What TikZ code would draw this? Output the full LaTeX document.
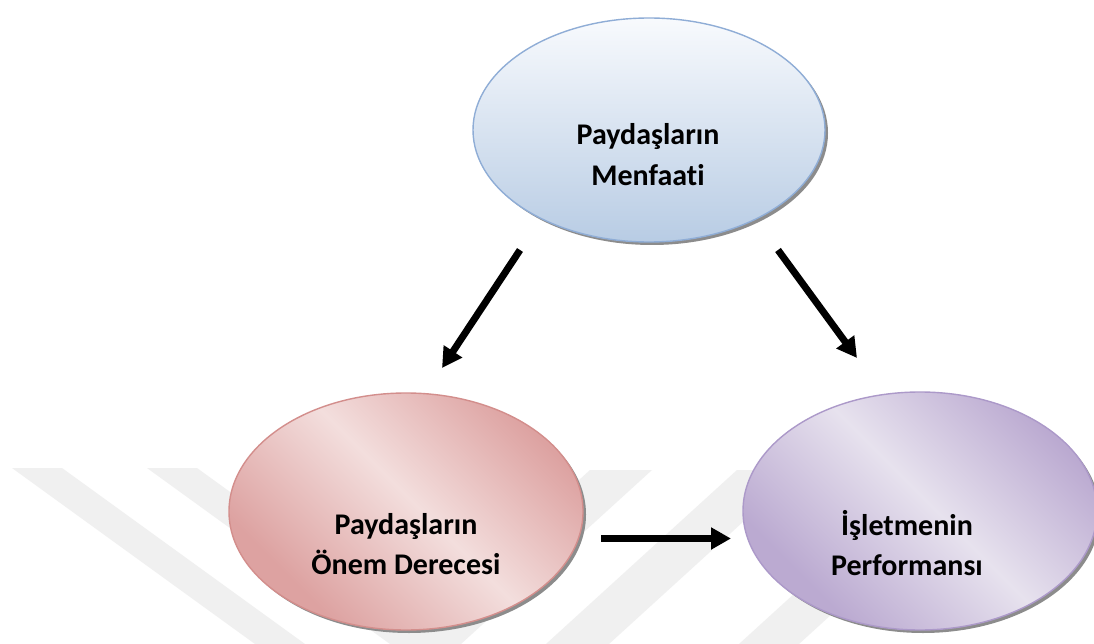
\documentclass[tikz,border=0pt]{standalone}
\usepackage{fontspec}
\setmainfont{Carlito}[Ligatures=NoCommon]
\usetikzlibrary{shapes.geometric,arrows.meta}

% palette
\definecolor{blueTop}{HTML}{F8FAFD}
\definecolor{blueMid}{HTML}{E0E9F4}
\definecolor{blueBot}{HTML}{B8CCE4}
\definecolor{blueLine}{HTML}{8FADD6}
\definecolor{redLight}{HTML}{F3DEDD}
\definecolor{redDark}{HTML}{DDA2A1}
\definecolor{redLine}{HTML}{D38E8C}
\definecolor{lilacLight}{HTML}{E7E2EE}
\definecolor{lilacDark}{HTML}{BBAAD1}
\definecolor{lilacLine}{HTML}{AC99C9}
\definecolor{markGray}{HTML}{F0F0F0}
\definecolor{shadowGray}{HTML}{8C8C8C}

% diagonal washes: dark at two opposite corners, light across the middle
\pgfdeclarehorizontalshading{redwash}{100bp}{color(0bp)=(redDark); color(28bp)=(redDark); color(52bp)=(redLight); color(75bp)=(redDark); color(100bp)=(redDark)}
\pgfdeclarehorizontalshading{lilacwash}{100bp}{color(0bp)=(lilacDark); color(28bp)=(lilacDark); color(52bp)=(lilacLight); color(75bp)=(lilacDark); color(100bp)=(lilacDark)}

\tikzset{
  bubble/.style={ellipse, inner sep=0pt, line width=1.4pt},
  bubbleshadow/.style={ellipse, inner sep=0pt, fill=shadowGray, draw=none, xshift=3pt, yshift=-3pt},
  lbl/.style={font=\fontsize{30}{40}\selectfont\bfseries, anchor=base, inner sep=0pt},
  flow/.style={line width=7pt, -{Triangle[length=20pt,width=21pt]}},
  markband/.style={fill=markGray, draw=none}
}

\begin{document}
\begin{tikzpicture}[x=1pt, y=-1pt]
  % page
  \fill[white] (0,0) rectangle (1094,644);
  \useasboundingbox (0,0) rectangle (1094,644);

  % faint chevron bands in the background
  \fill[markband] (12,468) -- (62,468) -- (305,644) -- (255,644) -- cycle;
  \fill[markband] (147,468) -- (197,468) -- (440,644) -- (390,644) -- cycle;
  \fill[markband] (590,470) -- (652,470) -- (461,644) -- (399,644) -- cycle;
  \fill[markband] (737,470) -- (800,470) -- (609,644) -- (546,644) -- cycle;
  \fill[markband] (930,470) -- (990,470) -- (799,644) -- (739,644) -- cycle;

  % drop shadows
  \node[bubbleshadow, minimum width=352pt, minimum height=224pt] (menfaatS) at (649,130) {};
  \node[bubbleshadow, minimum width=354pt, minimum height=237pt] (onemS) at (406,511.5) {};
  \node[bubbleshadow, minimum width=354pt, minimum height=238pt] (perfS) at (920,511) {};

  % the three ellipses
  \node[bubble, minimum width=352pt, minimum height=224pt, draw=blueLine,
        top color=blueTop, middle color=blueMid, bottom color=blueBot] (menfaat) at (649,130) {};
  \node[bubble, minimum width=354pt, minimum height=237pt, draw=redLine,
        shading=redwash, shading angle=45] (onem) at (406,511.5) {};
  \node[bubble, minimum width=354pt, minimum height=238pt, draw=lilacLine,
        shading=lilacwash, shading angle=45] (perf) at (920,511) {};

  % labels
  \node[lbl] (menfaat1) at (648,145) {Paydaşların};
  \node[lbl] (menfaat2) at (648,186) {Menfaati};
  \node[lbl] (onem1) at (406,534) {Paydaşların};
  \node[lbl] (onem2) at (406,574) {Önem Derecesi};
  \node[lbl] (perf1) at (907,535) {İşletmenin};
  \node[lbl] (perf2) at (907,575) {Performansı};

  % arrow end points
  \coordinate (aLs) at (520,250);
  \coordinate (aLe) at (442,368);
  \coordinate (aRs) at (778,250);
  \coordinate (aRe) at (857,358);
  \coordinate (aHs) at (601,538.5);
  \coordinate (aHe) at (731,538.5);

  \draw[flow] (aLs) -- (aLe);
  \draw[flow] (aRs) -- (aRe);
  \draw[flow] (aHs) -- (aHe);
\end{tikzpicture}
\end{document}
